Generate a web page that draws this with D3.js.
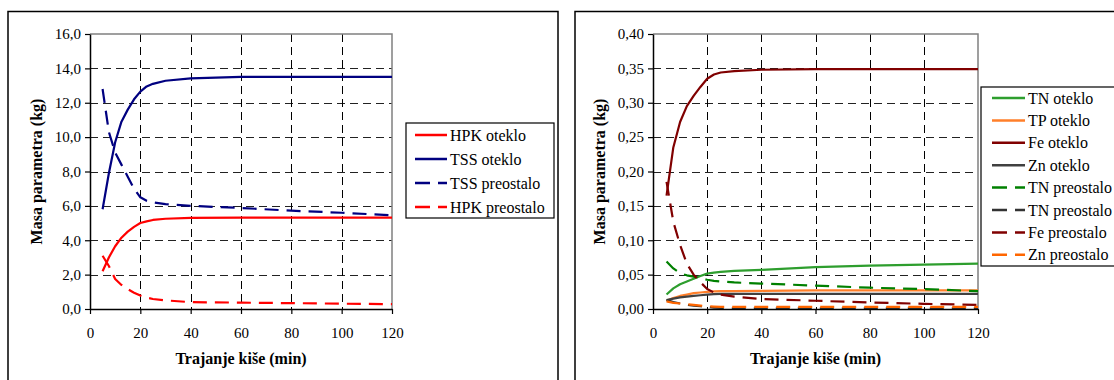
<!DOCTYPE html>
<html><head><meta charset="utf-8">
<script src="https://cdn.jsdelivr.net/npm/d3@7"></script>
<style>
body{margin:0;background:#fff}
svg{display:block}
</style>
</head><body>
<svg id="c" width="1114" height="380"></svg>
<script>
// ---------- DATA ----------
const xTicks = [0, 20, 40, 60, 80, 100, 120];
const xTickLabels = ["0", "20", "40", "60", "80", "100", "120"];

// left chart
const timeL = [5, 7.5, 10, 12.5, 15, 17.5, 20, 22.5, 25, 30, 40, 60, 80, 100, 120];
const hpkOteklo    = [2.2, 3.0, 3.65, 4.15, 4.5, 4.78, 5.0, 5.1, 5.18, 5.25, 5.3, 5.32, 5.32, 5.32, 5.32];
const tssOteklo    = [5.8, 7.9, 9.7, 10.9, 11.6, 12.2, 12.65, 12.95, 13.1, 13.28, 13.42, 13.5, 13.5, 13.5, 13.5];
const tssPreostalo = [12.8, 10.3, 9.1, 8.4, 7.7, 7.0, 6.5, 6.3, 6.2, 6.1, 6.0, 5.88, 5.72, 5.6, 5.45];
const hpkPreostalo = [3.1, 2.5, 1.75, 1.4, 1.15, 0.95, 0.78, 0.66, 0.58, 0.5, 0.4, 0.37, 0.34, 0.31, 0.28];
const yTicksL = [0, 2, 4, 6, 8, 10, 12, 14, 16];
const yTickLabelsL = ["0,0", "2,0", "4,0", "6,0", "8,0", "10,0", "12,0", "14,0", "16,0"];
const seriesNamesL = ["HPK oteklo", "TSS oteklo", "TSS preostalo", "HPK preostalo"];
const seriesColorsL = ["#ff0000", "#000080", "#000080", "#ff0000"];
const seriesDashedL = [false, false, true, true];

// right chart
const timeR = [5, 7.5, 10, 12.5, 15, 17.5, 20, 22.5, 25, 30, 40, 60, 80, 100, 120];
const tnOteklo     = [0.021, 0.030, 0.036, 0.040, 0.044, 0.048, 0.0515, 0.053, 0.054, 0.0555, 0.057, 0.061, 0.063, 0.0645, 0.066];
const tpOteklo     = [0.012, 0.016, 0.019, 0.021, 0.023, 0.024, 0.025, 0.0255, 0.026, 0.026, 0.0265, 0.027, 0.027, 0.027, 0.027];
const feOteklo     = [0.165, 0.235, 0.272, 0.295, 0.31, 0.323, 0.335, 0.341, 0.344, 0.346, 0.348, 0.349, 0.349, 0.349, 0.349];
const znOteklo     = [0.013, 0.015, 0.017, 0.018, 0.019, 0.020, 0.021, 0.0215, 0.022, 0.022, 0.022, 0.022, 0.022, 0.022, 0.022];
const tnPreostalo  = [0.069, 0.059, 0.052, 0.049, 0.047, 0.045, 0.0425, 0.041, 0.040, 0.0386, 0.037, 0.034, 0.031, 0.029, 0.026];
const tnPreostalo2 = [0.013, 0.010, 0.008, 0.006, 0.005, 0.004, 0.003, 0.002, 0.0015, 0.001, 0.001, 0.001, 0.001, 0.001, 0.001];
const fePreostalo  = [0.185, 0.127, 0.093, 0.066, 0.05, 0.039, 0.029, 0.024, 0.021, 0.018, 0.0145, 0.012, 0.0095, 0.0075, 0.006];
const znPreostalo  = [0.011, 0.009, 0.008, 0.007, 0.006, 0.005, 0.004, 0.0035, 0.003, 0.003, 0.003, 0.003, 0.003, 0.003, 0.003];
const yTicksR = [0, 0.05, 0.10, 0.15, 0.20, 0.25, 0.30, 0.35, 0.40];
const yTickLabelsR = ["0,00", "0,05", "0,10", "0,15", "0,20", "0,25", "0,30", "0,35", "0,40"];
const seriesNamesR = ["TN oteklo", "TP oteklo", "Fe oteklo", "Zn oteklo", "TN preostalo", "TN preostalo", "Fe preostalo", "Zn preostalo"];
const seriesColorsR = ["#2e9e2e", "#ff7f2a", "#800000", "#404040", "#008000", "#333333", "#800000", "#ff6600"];
const seriesDashedR = [false, false, false, false, true, true, true, true];

const xTitle = "Trajanje kiše (min)";
const yTitle = "Masa parametra (kg)";

// ---------- DRAW ----------
const FONT = '"Liberation Serif","Times New Roman",serif';
const svg = d3.select("#c");

function panel(cfg) {
  const g = svg.append("g").attr("font-family", FONT);
  g.append("rect").attr("x", cfg.frame[0]).attr("y", cfg.frame[1])
    .attr("width", cfg.frame[2]).attr("height", cfg.frame[3])
    .attr("fill", "#fff").attr("stroke", "#000").attr("stroke-width", 1.5);

  const x = d3.scaleLinear().domain([0, 120]).range([cfg.x0, cfg.x1]);
  const y = d3.scaleLinear().domain([0, cfg.ymax]).range([cfg.yb, cfg.yt]);

  g.append("g").selectAll("line").data(cfg.yTicks.slice(1, -1)).join("line")
    .attr("x1", cfg.x0).attr("x2", cfg.x1)
    .attr("y1", d => Math.round(y(d)) + 0.5).attr("y2", d => Math.round(y(d)) + 0.5)
    .attr("stroke", "#222").attr("stroke-dasharray", "8,5");
  g.append("g").selectAll("line").data(xTicks.slice(1, -1)).join("line")
    .attr("y1", cfg.yt).attr("y2", cfg.yb)
    .attr("x1", d => Math.round(x(d)) + 0.5).attr("x2", d => Math.round(x(d)) + 0.5)
    .attr("stroke", "#000").attr("stroke-dasharray", "8,5");
  g.append("path")
    .attr("d", `M${cfg.x0},${cfg.yt}H${cfg.x1}V${cfg.yb}`)
    .attr("fill", "none").attr("stroke", "#808080").attr("stroke-width", 1.5);

  const line = d3.line().x((d) => x(d[0])).y((d) => y(d[1]));
  cfg.series.forEach((s, i) => {
    g.append("path").datum(cfg.time.map((t, k) => [t, s[k]]))
      .attr("d", line).attr("fill", "none")
      .attr("stroke", cfg.colors[i]).attr("stroke-width", 2.2)
      .attr("stroke-linejoin", "round")
      .attr("stroke-dasharray", cfg.dashed[i] ? "14,8" : null);
  });

  const ya = g.append("g").attr("transform", `translate(${cfg.x0},0)`)
    .call(d3.axisLeft(y).tickValues(cfg.yTicks).tickSize(5).tickSizeOuter(0).tickPadding(4)
      .tickFormat((d, i) => cfg.yLabels[i]));
  const xa = g.append("g").attr("transform", `translate(0,${cfg.yb})`)
    .call(d3.axisBottom(x).tickValues(xTicks).tickSize(5).tickSizeOuter(0).tickPadding(13)
      .tickFormat((d, i) => xTickLabels[i]));
  [ya, xa].forEach(a => {
    a.attr("font-family", FONT).attr("font-size", 15);
    a.select(".domain").attr("stroke", "#000").attr("stroke-width", 1.5);
    a.selectAll(".tick line").attr("stroke", "#000").attr("stroke-width", 1.2);
    a.selectAll("text").attr("fill", "#000");
  });

  g.append("text").attr("x", (cfg.x0 + cfg.x1) / 2).attr("y", 364)
    .attr("text-anchor", "middle").attr("font-weight", "bold").attr("font-size", 16).text(xTitle);
  g.append("text").attr("transform", `translate(${cfg.x0 - 48},${(cfg.yt + cfg.yb) / 2}) rotate(-90)`)
    .attr("text-anchor", "middle").attr("font-weight", "bold").attr("font-size", 16).text(yTitle);

  const L = cfg.legend;
  g.append("rect").attr("x", L.x).attr("y", L.y).attr("width", L.w).attr("height", L.h)
    .attr("fill", "#fff").attr("stroke", "#000").attr("stroke-width", 1.2);
  cfg.names.forEach((n, i) => {
    const yy = L.y0 + i * L.dy;
    g.append("line").attr("x1", L.lx0).attr("x2", L.lx1).attr("y1", yy).attr("y2", yy)
      .attr("stroke", cfg.colors[i]).attr("stroke-width", 2.5)
      .attr("stroke-dasharray", cfg.dashed[i] ? "15,8" : null);
    g.append("text").attr("x", L.tx).attr("y", yy).attr("dy", "0.35em")
      .attr("font-size", 16).text(n);
  });
}

panel({
  frame: [8, 11.5, 550, 400], x0: 90, x1: 392, yt: 34, yb: 309, ymax: 16,
  yTicks: yTicksL, yLabels: yTickLabelsL, time: timeL,
  series: [hpkOteklo, tssOteklo, tssPreostalo, hpkPreostalo],
  names: seriesNamesL, colors: seriesColorsL, dashed: seriesDashedL,
  legend: {x: 406, y: 123, w: 148, h: 95, y0: 135, dy: 24, lx0: 415, lx1: 447, tx: 450}
});
panel({
  frame: [575, 11.5, 560, 400], x0: 653, x1: 978, yt: 34, yb: 309, ymax: 0.40,
  yTicks: yTicksR, yLabels: yTickLabelsR, time: timeR,
  series: [tnOteklo, tpOteklo, feOteklo, znOteklo, tnPreostalo, tnPreostalo2, fePreostalo, znPreostalo],
  names: seriesNamesR, colors: seriesColorsR, dashed: seriesDashedR,
  legend: {x: 981, y: 87, w: 150, h: 179, y0: 98, dy: 22.4, lx0: 992, lx1: 1025, tx: 1028}
});
</script>
</body></html>
